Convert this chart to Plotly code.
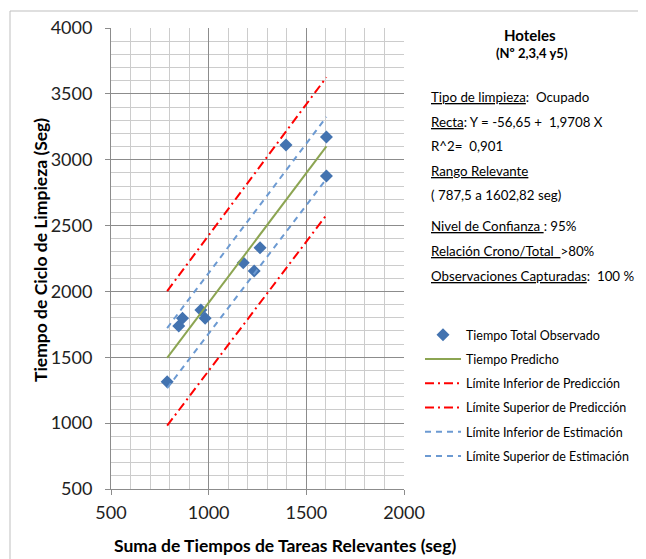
import plotly.graph_objects as go

# ---- data ----
obs_x = [787.5, 847, 866, 960, 982, 1177, 1233, 1263, 1396, 1602.82, 1602.82]
obs_y = [1315, 1738, 1797, 1859, 1796, 2218, 2156, 2332, 3112, 3172, 2876]

range_x = [787.5, 1602.82]
pred_y = [1495, 3102]
pred_upper = [2003, 3626]
pred_lower = [981, 2580]
est_upper = [1722, 3325]
est_lower = [1265, 2855]

names = ["Tiempo Total Observado", "Tiempo Predicho",
         "Límite Inferior de Predicción", "Límite Superior de Predicción",
         "Límite Inferior de Estimación", "Límite Superior de Estimación"]

x_title = "Suma de Tiempos de Tareas Relevantes (seg)"
y_title = "Tiempo de Ciclo de Limpieza (Seg)"
panel_title = "Hoteles"
panel_sub = "(Nº 2,3,4 y5)"
NB = "\u00a0"
# (underlined part, plain part)
panel_lines = [
    ("Tipo de limpieza", ":" + NB + NB + "Ocupado"),
    ("Recta", ": Y = -56,65 +" + NB + NB + "1,9708 X"),
    ("", "R^2=" + NB + NB + "0,901"),
    ("Rango Relevante", ""),
    ("", "( 787,5 a 1602,82 seg)"),
    ("Nivel de Confianza" + NB, ": 95%"),
    ("Relación Crono/Total" + NB + NB, ">80%"),
    ("Observaciones Capturadas", ":" + NB + NB + "100 %"),
]
panel_y_px = [97, 122, 146, 171, 195, 226, 251, 276]

W, H = 646, 559
OFF = 8  # page body margin
ML, MT = 111 - OFF, 28 - OFF
PW, PH = 293, 461
MR, MB = W - ML - PW, H - MT - PH
TEXT_X = 430


def px_x(sx):
    return (sx - 111) / PW


def px_y(sy):
    return (489 - sy) / PH


FONT = "Lato, 'Open Sans', sans-serif"
BLUE = "#4373B0"
GREEN = "#8CA552"
RED = "#FF0000"
LBLUE = "#6C9AD2"

fig = go.Figure()
fig.add_trace(go.Scatter(x=obs_x, y=obs_y, mode="markers", name=names[0],
                         marker=dict(symbol="diamond", size=10, color=BLUE),
                         legendgroup="a"))
fig.add_trace(go.Scatter(x=range_x, y=pred_y, mode="lines", name=names[1],
                         line=dict(color=GREEN, width=2), legendgroup="b"))
fig.add_trace(go.Scatter(x=range_x, y=pred_lower, mode="lines", name=names[2],
                         line=dict(color=RED, width=2, dash="9px,4px,2px,4px"),
                         legendgroup="c"))
fig.add_trace(go.Scatter(x=range_x, y=pred_upper, mode="lines", name=names[3],
                         line=dict(color=RED, width=2, dash="9px,4px,2px,4px"),
                         legendgroup="d"))
fig.add_trace(go.Scatter(x=range_x, y=est_lower, mode="lines", name=names[4],
                         line=dict(color=LBLUE, width=2, dash="6px,5px"),
                         legendgroup="e"))
fig.add_trace(go.Scatter(x=range_x, y=est_upper, mode="lines", name=names[5],
                         line=dict(color=LBLUE, width=2, dash="6px,5px"),
                         legendgroup="f"))

axis_common = dict(
    showgrid=True, gridcolor="#8C8C8C", gridwidth=1,
    showline=True, linecolor="#8C8C8C", linewidth=1,
    ticks="outside", ticklen=5, tickcolor="#8C8C8C",
    tickfont=dict(family=FONT, size=18, color="#222"),
    zeroline=False,
    minor=dict(dtick=100, showgrid=True, gridcolor="#CCCCCC", gridwidth=1),
)

fig.update_xaxes(range=[500, 2000], dtick=500, tick0=500, ticklabelstandoff=2,
                 **axis_common)
fig.update_yaxes(range=[500, 4000], dtick=500, tick0=500, ticklabelstandoff=9,
                 **axis_common)


def note(text, sx, sy, size, anchor="left", angle=0):
    return dict(text=text, x=px_x(sx), y=px_y(sy), xref="paper", yref="paper",
                xanchor=anchor, yanchor="middle", showarrow=False,
                textangle=angle, borderpad=0,
                font=dict(family=FONT, size=size, color="#000"))


annotations = [
    note("<b>" + x_title + "</b>", 285, 545, 17.5, "center"),
    note("<b>" + y_title + "</b>", 40, 250, 17.5, "center", -90),
    note("<b>" + panel_title + "</b>", 530, 35, 15, "center"),
    note("<b>" + panel_sub + "</b>", 532, 53, 13, "center"),
]
for (ul, rest), py in zip(panel_lines, panel_y_px):
    txt = ""
    if ul:
        txt += "<span style='text-decoration:underline'>" + ul + "</span>"
    txt += rest
    annotations.append(note(txt, TEXT_X, py, 13.3))

shapes = [dict(type="rect", xref="paper", yref="paper",
               x0=px_x(10), x1=px_x(643), y0=px_y(580), y1=px_y(11),
               line=dict(color="#BFBFBF", width=1), layer="below")]

fig.update_layout(
    width=W, height=H,
    margin=dict(l=ML, r=MR, t=MT, b=MB, autoexpand=False),
    paper_bgcolor="white", plot_bgcolor="white",
    font=dict(family=FONT, color="#000"),
    showlegend=True,
    legend=dict(x=px_x(420), y=px_y(320), xanchor="left", yanchor="top",
                xref="paper", yref="paper",
                font=dict(family=FONT, size=12.5, color="#000"),
                tracegroupgap=5, traceorder="grouped", itemwidth=36,
                bgcolor="rgba(0,0,0,0)"),
    annotations=annotations,
    shapes=shapes,
)

fig.write_html("out.html")
